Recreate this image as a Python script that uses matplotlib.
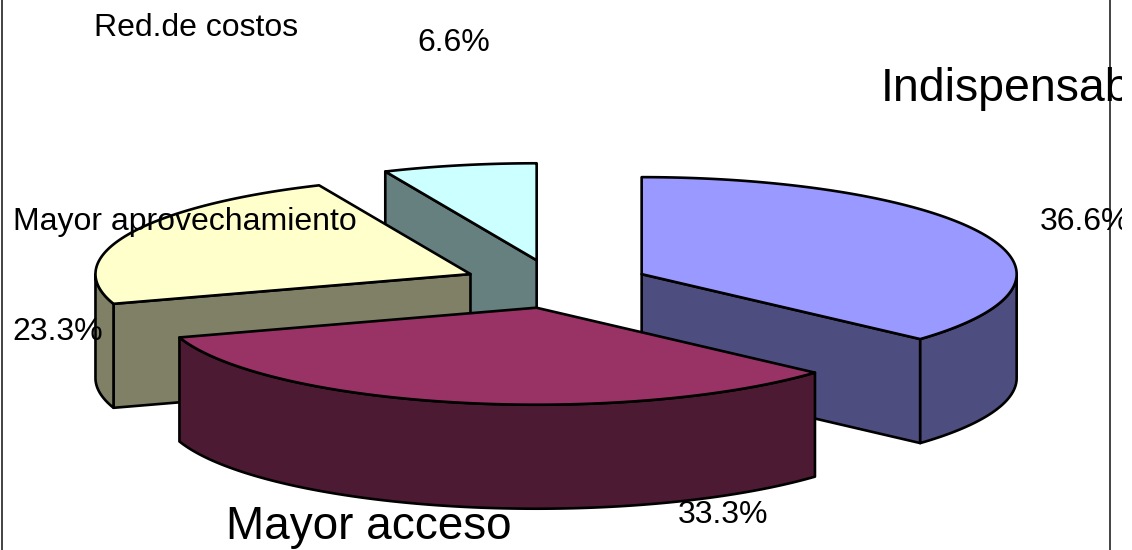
"""Exploded 3D style pie, drawn by projecting each slice on an ellipse."""

import numpy as np
import matplotlib.pyplot as plt
from matplotlib.patches import Polygon

categories = ["Indispensable", "Mayor acceso", "Mayor aprovechamiento", "Red.de costos"]
values = [36.6, 33.3, 23.3, 6.6]
top_colors = ["#9999FF", "#993366", "#FFFFCC", "#CCFFFF"]
side_colors = ["#4D4D80", "#4D1A33", "#808066", "#668080"]

# projection of the pie in pixels
CX, CY = 556, 284
RX, RY = 375, 97
DEPTH = 104
EXPLODE = 0.25
EDGE = dict(edgecolor="black", linewidth=1.9, joinstyle="round")


def rim(center, angles):
    """Points on the ellipse, angles in degrees clockwise from the top"""
    rad = np.radians(angles)
    return np.column_stack(
        [center[0] + RX * np.sin(rad), center[1] - RY * np.cos(rad)]
    )


def draw_slice(ax, start, end, top_color, side_color):
    mid = np.radians((start + end) / 2)
    center = (
        CX + EXPLODE * RX * np.sin(mid),
        CY - EXPLODE * RY * np.cos(mid),
    )
    drop = np.array([0, DEPTH])

    # flat cut faces, only the ones turned to the viewer
    for angle, sign in ((start, -1), (end, 1)):
        if sign * np.sin(np.radians(angle)) > 1e-6:
            edge = np.vstack([center, rim(center, [angle])])
            face = np.vstack([edge, edge[::-1] + drop])
            ax.add_patch(Polygon(face, facecolor=side_color, **EDGE))

    # outer wall, front part of the rim
    lo, hi = max(start, 90), min(end, 270)
    if lo < hi:
        arc = rim(center, np.linspace(lo, hi, 120))
        ax.add_patch(
            Polygon(np.vstack([arc, arc[::-1] + drop]), facecolor=side_color, **EDGE)
        )

    arc = rim(center, np.linspace(start, end, 240))
    ax.add_patch(Polygon(np.vstack([center, arc]), facecolor=top_color, **EDGE))


def main():
    fig = plt.figure(figsize=(11.32, 5.5), dpi=100)
    ax = fig.add_axes([0, 0, 1122 / 1132, 1])
    ax.set_xlim(0, 1122)
    ax.set_ylim(550, 0)
    ax.axis("off")

    plt.rcParams["font.family"] = "Liberation Sans"

    ax.axvline(2, color="#222222", linewidth=1.2)
    ax.axvline(1110.5, color="#222222", linewidth=1.2)

    bounds = np.concatenate([[0], np.cumsum(values)]) / sum(values) * 360
    slices = list(zip(bounds[:-1], bounds[1:], top_colors, side_colors))
    # back to front
    for i in (3, 2, 0, 1):
        draw_slice(ax, *slices[i][:2], *slices[i][2:])

    name_style = [(881, 101, 33.5), (226, 539, 33), (13, 230, 23), (94, 36, 23)]
    pct_style = [(1040, 230, 23), (678, 523, 23), (12, 340, 23), (417, 51, 23)]
    for name, val, (nx, ny, ns), (px, py, ps) in zip(
        categories, values, name_style, pct_style
    ):
        ax.text(nx, ny, name, fontsize=ns, va="baseline", clip_on=True)
        ax.text(px, py, f"{val}%", fontsize=ps, va="baseline", clip_on=True)

    fig.savefig("out.png", dpi=100)


if __name__ == "__main__":
    main()
